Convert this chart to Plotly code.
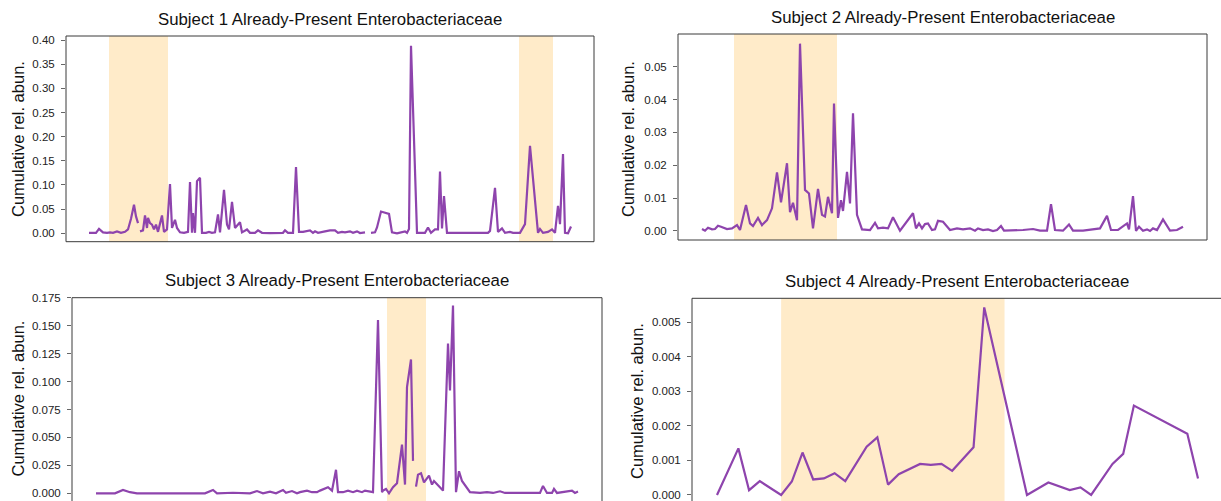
import plotly.graph_objects as go

# ---------------- data ----------------
TITLES = [
    "Subject 1 Already-Present Enterobacteriaceae",
    "Subject 2 Already-Present Enterobacteriaceae",
    "Subject 3 Already-Present Enterobacteriaceae",
    "Subject 4 Already-Present Enterobacteriaceae",
]
Y_LABEL = "Cumulative rel. abun."

# Subject 1 (None = missing sample, breaks the line)
s1_day = [0, 4, 7, 10, 14, 18, 21, 24, 28, 32, 36, 39, 42, 45, 47, 49, 50,
          51, 54, 56, 58, 59, 61, 63, 65, 67, 69, 71, 73, 75, 78, 81, 83, 86, 88,
          91, 95, 99, 101, 103, 104, 106, 108, 111, 113, 117, 120, 123, 126, 129,
          131, 135, 138, 140, 143, 146, 151, 153, 158, 161, 166, 169, 173, 181,
          194, 196, 199, 204, 207, 210, 214, 221, 224, 226, 229, 236, 241, 246,
          249, 253, 256, 261, 264, 268, 271, 276, 279,
          282, 286, 288, 292, 300, 303, 308, 316, 318, 320, 322, 328, 332, 336,
          339, 342, 346, 349, 351, 353, 355, 358, 399, 401, 406, 409, 413, 416,
          421, 424, 431, 436, 441, 448, 449, 451, 454, 459, 463, 466, 469, 471,
          474, 476, 479, 482]
s1_abun = [0.001, 0.0005, 0.001, 0.009, 0.002, 0.001, 0.002, 0.001, 0.004, 0.001,
           0.003, 0.008, 0.030, 0.059, 0.035, 0.021, None,
           0.004, 0.006, 0.037, 0.011, 0.032, 0.021, 0.018, 0.008, 0.018, 0.003,
           0.020, 0.037, 0.003, 0.008, 0.102, 0.011, 0.028, 0.011,
           0.002, 0.001, 0.003, 0.106, 0.001, 0.042, 0.001, 0.108, 0.115, 0.001,
           0.001, 0.003, 0.001, 0.002, 0.039,
           0.002, 0.090, 0.018, 0.008, 0.065, 0.011, 0.023, 0.002, 0.008, 0.001,
           0.001, 0.006, 0.001, 0.0005,
           0.001, 0.006, 0.001, 0.001, 0.137, 0.003, 0.003, 0.006, 0.001, 0.004,
           0.001, 0.004, 0.006, 0.006,
           0.001, 0.003, 0.002, 0.004, 0.001, 0.004, 0.0005, 0.002, None,
           0.001, 0.002, 0.012, 0.045, 0.040, 0.002, 0.000, 0.004, 0.001, 0.009,
           0.388, 0.001, 0.001, 0.001,
           0.012, 0.001, 0.008, 0.008, 0.128, 0.010, 0.077, 0.001, 0.001, 0.005,
           0.094, 0.003, 0.010, 0.001,
           0.003, 0.001, 0.001, 0.019, 0.181, 0.010, 0.001, 0.009, 0.001, 0.003,
           0.008, 0.001, 0.057, 0.019,
           0.164, 0.001, 0.000, 0.014]
s1_windows = [(20, 79), (430, 464)]

# Subject 2
s2_day = [0, 3, 6, 10, 13, 16, 19, 25, 30, 35, 38, 44, 48, 51, 56, 60, 65, 70,
          75, 79, 85, 88, 91, 95, 98, 103, 107, 111, 116, 120, 123, 126, 130, 132,
          136, 139, 141, 145, 148, 151, 155, 160, 168, 173, 176, 181, 186, 191,
          198, 205, 211, 214, 217, 220, 223, 226, 230, 233, 236, 241, 248, 255,
          261, 268, 273, 276, 281, 286, 291, 295, 299, 302, 311, 321, 331, 338,
          345, 349, 353, 361, 367, 371, 381, 391, 398, 405, 409, 416, 425, 427,
          431, 434, 437, 441, 445, 448, 451, 455, 461, 468, 475, 481]
s2_abun = [0.0006, 0.0001, 0.0010, 0.0005, 0.0006, 0.0016, 0.0013, 0.0006, 0.0008,
           0.0018, 0.0003, 0.0079, 0.0023, 0.0015, 0.0040, 0.0018, 0.0033, 0.0069,
           0.0178, 0.0087, 0.0206, 0.0057, 0.0086, 0.0033, 0.0570, 0.0125, 0.0114,
           0.0008, 0.0128, 0.0049, 0.0044, 0.0104, 0.0054, 0.0388,
           0.0040, 0.0094, 0.0061, 0.0180, 0.0084, 0.0358, 0.0049, 0.0005, 0.0003,
           0.0025, 0.0008, 0.0010, 0.0008, 0.0042,
           0.0001, 0.0028, 0.0054, 0.0008, 0.0023, 0.0008, 0.0021, 0.0023, 0.0003,
           0.0005, 0.0031, 0.0028, 0.0003, 0.0008,
           0.0005, 0.0008, 0.0001, 0.0008, 0.0003, 0.0005, 0.0000, 0.0003, 0.0015,
           0.0001, 0.0001, 0.0003, 0.0006, 0.0001,
           0.0001, 0.0082, 0.0003, 0.0001, 0.0020, 0.0001, 0.0001, 0.0006, 0.0008,
           0.0046, 0.0003, 0.0003, 0.0023, 0.0005,
           0.0106, 0.0000, 0.0013, 0.0001, 0.0005, 0.0000, 0.0008, 0.0003, 0.0035,
           0.0001, 0.0003, 0.0013]
s2_windows = [(32, 135)]

# Subject 3
s3_day = [0, 19, 27, 34, 41, 109, 117, 121, 137, 154, 161, 167, 174, 180, 187,
          190, 196, 201, 204, 211, 216, 221, 224, 229, 232, 236, 240, 242, 247,
          252, 257, 261, 266, 269, 277, 282, 286, 287, 290, 293, 297, 301, 306,
          309, 311, 315, 317, 318,
          320, 322, 325, 328, 333, 336, 338, 341, 347, 352, 354, 357, 360, 363,
          366, 374, 384, 391, 397, 404, 409, 417, 434, 444, 447, 451, 456, 458,
          461, 471, 476, 479, 482]
s3_abun = [0.0, 0.0, 0.003, 0.001, 0.0, 0.0, 0.003, 0.0, 0.0005, 0.0, 0.002, 0.0,
           0.0015, 0.0, 0.003,
           0.0005, 0.002, 0.0, 0.001, 0.0024, 0.001, 0.001, 0.0024, 0.004, 0.0054,
           0.0024, 0.021, 0.001, 0.001,
           0.0024, 0.001, 0.0024, 0.001, 0.0024, 0.001, 0.155, 0.001, 0.0024, 0.0039,
           0.0, 0.0054, 0.009, 0.0436,
           0.0078, 0.095, 0.1197, 0.029, None,
           0.006, 0.0167, 0.018, 0.0098, 0.0158, 0.0078, 0.011, 0.0078, 0.0024,
           0.134, 0.092, 0.168, 0.001, 0.0197,
           0.011, 0.001, 0.0003, 0.001, 0.0003, 0.0018, 0.0003, 0.0003, 0.0003,
           0.0003, 0.0066, 0.0003, 0.0003, 0.0039,
           0.0003, 0.0015, 0.0024, 0.0003, 0.0015]
s3_windows = [(291, 330)]

# Subject 4
s4_day = [0, 2, 3, 4, 6, 7, 8, 9, 10, 11, 12, 13, 14, 15, 16, 17, 19, 20, 21,
          22, 24, 25, 29, 31, 33, 34, 35, 37, 38, 39, 44, 45]
s4_abun = [0.0, 0.00135, 0.00014, 0.0004, 0.0, 0.00039, 0.00123, 0.00045,
           0.00048, 0.00063, 0.0004, 0.0009, 0.0014, 0.00167, 0.0003, 0.0006,
           0.0009, 0.00087, 0.0009, 0.0007, 0.00138, 0.00543, 0.0, 0.00036,
           0.00014, 0.00022, 0.0, 0.0009, 0.00119, 0.00259, 0.00177, 0.00048]
s4_windows = [(6, 26.9)]

# y tick values per panel
s1_ticks = [0.00, 0.05, 0.10, 0.15, 0.20, 0.25, 0.30, 0.35, 0.40]
s2_ticks = [0.00, 0.01, 0.02, 0.03, 0.04, 0.05]
s3_ticks = [0.000, 0.025, 0.050, 0.075, 0.100, 0.125, 0.150, 0.175]
s4_ticks = [0.000, 0.001, 0.002, 0.003, 0.004, 0.005]

# ---------------- styling / layout ----------------
W, H = 1221, 501
LINE_COLOR = "#8E44AD"
SHADE_COLOR = "#FFEBC9"
SPINE_COLOR = "#3a3a3a"
FONT = "Liberation Sans, Arial, Helvetica, sans-serif"


def xdom(left, right):
    return [left / W, min(right / W, 1.0)]


def ydom(top, bottom):
    return [max(1 - bottom / H, 0.0), 1 - top / H]


panels = [
    dict(day=s1_day, abun=s1_abun, windows=s1_windows, ticks=s1_ticks, fmt=".2f",
         xd=xdom(66, 594), yd=ydom(36, 241.7), xr=[-23, 505], yr=[-0.0174, 0.4083],
         edges=("top", "bottom", "left", "right"), title_at=(330, 19), ylab_at=(18, 139)),
    dict(day=s2_day, abun=s2_abun, windows=s2_windows, ticks=s2_ticks, fmt=".2f",
         xd=xdom(678, 1207), yd=ydom(34, 240), xr=[-24, 505], yr=[-0.00274, 0.05994],
         edges=("top", "bottom", "left", "right"), title_at=(942.5, 17), ylab_at=(628, 139)),
    dict(day=s3_day, abun=s3_abun, windows=s3_windows, ticks=s3_ticks, fmt=".3f",
         xd=xdom(72, 602), yd=ydom(297.7, 501), xr=[-24, 506], yr=[-0.00689, 0.175],
         edges=("top", "left", "right"), title_at=(337, 280.5), ylab_at=(17.5, 399)),
    dict(day=s4_day, abun=s4_abun, windows=s4_windows, ticks=s4_ticks, fmt=".3f",
         xd=xdom(692, 1221), yd=ydom(298.3, 501), xr=[-2.339, 47.15], yr=[-0.000174, 0.005695],
         edges=("top", "left"), title_at=(957, 281), ylab_at=(637, 401)),
]

fig = go.Figure()
shapes = []
annotations = []
layout_axes = {}

edge_coords = {
    "top": (0, 1, 1, 1),
    "bottom": (0, 0, 1, 0),
    "left": (0, 0, 0, 1),
    "right": (1, 0, 1, 1),
}

for i, (p, title) in enumerate(zip(panels, TITLES), start=1):
    sx = "" if i == 1 else str(i)
    xa, ya = "x" + sx, "y" + sx

    fig.add_trace(go.Scatter(
        x=p["day"], y=p["abun"], mode="lines",
        line=dict(color=LINE_COLOR, width=2.2),
        connectgaps=False, xaxis=xa, yaxis=ya,
        showlegend=False, hoverinfo="x+y",
    ))

    layout_axes["xaxis" + sx] = dict(
        domain=p["xd"], range=p["xr"], anchor=ya, automargin=False,
        showgrid=False, zeroline=False, showline=False,
        showticklabels=False, ticks="",
    )
    layout_axes["yaxis" + sx] = dict(
        domain=p["yd"], range=p["yr"], anchor=xa, automargin=False,
        showgrid=False, zeroline=False, showline=False,
        tickmode="array", tickvals=p["ticks"], tickformat=p["fmt"],
        ticks="outside", ticklen=4, tickwidth=1, tickcolor="#666",
        ticklabelstandoff=4, ticklabeloverflow="allow",
        tickfont=dict(family=FONT, size=11.5, color="#222"),
    )

    # highlighted intervals
    for (a, b) in p["windows"]:
        shapes.append(dict(
            type="rect", xref=xa, yref=ya + " domain",
            x0=a, x1=b, y0=0, y1=1,
            fillcolor=SHADE_COLOR, line=dict(width=0), layer="below",
        ))

    # frame edges
    for e in p["edges"]:
        x0, y0, x1, y1 = edge_coords[e]
        shapes.append(dict(
            type="line", xref=xa + " domain", yref=ya + " domain",
            x0=x0, y0=y0, x1=x1, y1=y1,
            line=dict(color=SPINE_COLOR, width=1), layer="above",
        ))

    tx, ty = p["title_at"]
    annotations.append(dict(
        text=title, xref="paper", yref="paper",
        x=tx / W, y=1 - ty / H, xanchor="center", yanchor="middle",
        showarrow=False, font=dict(family=FONT, size=16.8, color="#111"),
    ))
    lx, ly = p["ylab_at"]
    annotations.append(dict(
        text=Y_LABEL, xref="paper", yref="paper",
        x=lx / W, y=1 - ly / H, xanchor="center", yanchor="middle",
        textangle=-90, showarrow=False,
        font=dict(family=FONT, size=16.5, color="#111"),
    ))

fig.update_layout(
    template="none",
    width=W, height=H,
    margin=dict(l=0, r=0, t=0, b=0, pad=0, autoexpand=False),
    paper_bgcolor="white", plot_bgcolor="white",
    shapes=shapes, annotations=annotations,
    **layout_axes,
)

fig.write_html("out.html")
